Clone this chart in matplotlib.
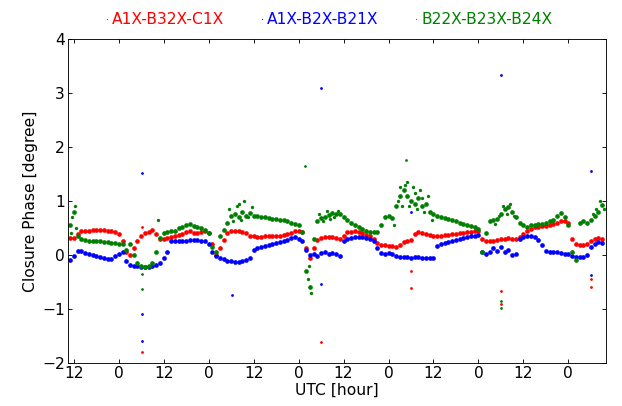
#Import Requirements
import numpy as np
import matplotlib
matplotlib.use("Agg")
import matplotlib.pyplot as plt

#Data: closure phase [degree], one reading per hour (hour 11 .. 153)
hours = np.arange(11, 154)

red = [0.31, 0.31, 0.38, 0.44, 0.45, 0.45, 0.46, 0.47, 0.47, 0.46,
       0.45, 0.44, 0.42, 0.38, 0.25, 0.05, 0.00, 0.12, 0.25, 0.35,
       0.40, 0.43, 0.46, 0.38, 0.30, 0.30, 0.32, 0.34, 0.36, 0.37,
       0.39, 0.42, 0.44, 0.40, 0.40, 0.42, 0.44, 0.40, 0.20, 0.00,
       0.12, 0.28, 0.40, 0.44, 0.44, 0.44, 0.43, 0.40, 0.36, 0.35,
       0.34, 0.34, 0.35, 0.35, 0.35, 0.36, 0.36, 0.37, 0.38, 0.40,
       0.44, 0.45, 0.42, 0.12, -0.06, 0.12, 0.28, 0.32, 0.33, 0.34,
       0.33, 0.31, 0.30, 0.36, 0.42, 0.43, 0.44, 0.42, 0.40, 0.37,
       0.35, 0.30, 0.22, 0.19, 0.18, 0.17, 0.16, 0.15, 0.18, 0.24,
       0.26, 0.27, 0.38, 0.42, 0.41, 0.39, 0.37, 0.35, 0.35, 0.36,
       0.37, 0.37, 0.38, 0.39, 0.40, 0.41, 0.42, 0.43, 0.44, 0.45,
       0.30, 0.26, 0.25, 0.25, 0.27, 0.29, 0.30, 0.31, 0.30, 0.30,
       0.33, 0.38, 0.44, 0.48, 0.51, 0.52, 0.53, 0.53, 0.55, 0.58,
       0.60, 0.62, 0.62, 0.60, 0.30, 0.20, 0.18, 0.18, 0.20, 0.26,
       0.30, 0.31, 0.30]

blue = [-0.09, -0.02, 0.08, 0.07, 0.04, 0.02, 0.00, -0.01, -0.03, -0.05,
        -0.08, -0.08, -0.02, 0.02, 0.06, -0.12, -0.19, -0.20, -0.21, -0.22,
        -0.23, -0.23, -0.20, -0.18, -0.14, -0.05, 0.05, 0.26, 0.26, 0.26,
        0.25, 0.26, 0.27, 0.28, 0.27, 0.26, 0.25, 0.20, 0.06, -0.02,
        -0.05, -0.08, -0.11, -0.12, -0.13, -0.13, -0.12, -0.10, -0.06, 0.10,
        0.12, 0.14, 0.16, 0.18, 0.20, 0.22, 0.24, 0.26, 0.28, 0.32,
        0.34, 0.30, 0.26, 0.10, 0.00, 0.02, -0.02, 0.03, 0.05, 0.01,
        0.04, 0.02, -0.02, 0.26, 0.30, 0.32, 0.33, 0.33, 0.33, 0.32,
        0.30, 0.26, 0.12, 0.04, 0.02, 0.03, 0.01, -0.02, -0.04, -0.04,
        -0.04, -0.05, -0.04, -0.04, -0.05, -0.05, -0.06, -0.06, 0.17, 0.20,
        0.22, 0.24, 0.26, 0.28, 0.30, 0.31, 0.33, 0.35, 0.36, 0.37,
        0.05, 0.02, 0.05, 0.12, 0.08, 0.15, 0.05, 0.10, 0.00, 0.02,
        0.30, 0.34, 0.35, 0.35, 0.33, 0.27, 0.18, 0.08, 0.06, 0.06,
        0.05, 0.03, 0.01, 0.02, -0.02, -0.03, -0.03, -0.03, 0.00, 0.15,
        0.20, 0.24, 0.22]

green = [0.55, 0.80, 0.36, 0.30, 0.27, 0.26, 0.25, 0.25, 0.25, 0.24,
         0.24, 0.23, 0.22, 0.21, 0.20, 0.10, 0.20, 0.00, -0.15, -0.20,
         -0.22, -0.21, -0.15, 0.05, 0.32, 0.40, 0.42, 0.44, 0.45, 0.50,
         0.52, 0.55, 0.57, 0.54, 0.52, 0.50, 0.46, 0.40, 0.15, 0.05,
         0.35, 0.46, 0.60, 0.72, 0.75, 0.70, 0.80, 0.72, 0.78, 0.73,
         0.72, 0.70, 0.70, 0.68, 0.67, 0.66, 0.65, 0.64, 0.63, 0.60,
         0.58, 0.56, 0.42, -0.30, -0.60, 0.30, 0.62, 0.68, 0.70, 0.74,
         0.78, 0.75, 0.75, 0.70, 0.65, 0.60, 0.56, 0.52, 0.48, 0.45,
         0.43, 0.42, 0.42, 0.55, 0.70, 0.72, 0.68, 0.90, 1.10, 1.20,
         1.10, 1.00, 0.95, 1.05, 0.90, 0.95, 0.80, 0.75, 0.72, 0.70,
         0.68, 0.66, 0.64, 0.62, 0.60, 0.58, 0.55, 0.53, 0.52, 0.48,
         0.05, 0.40, 0.62, 0.65, 0.67, 0.75, 0.85, 0.88, 0.80, 0.70,
         0.60, 0.55, 0.52, 0.55, 0.56, 0.57, 0.58, 0.60, 0.62, 0.65,
         0.72, 0.78, 0.70, 0.55, 0.05, -0.10, 0.60, 0.62, 0.60, 0.65,
         0.72, 0.80, 0.92]

#Extra scattered green readings in the noisy stretches
green_extra_t = [11.2, 11.5, 12.3, 12.6, 34.6, 53.5, 54.5, 55.5, 56.0, 56.5,
                 57.5, 58.5, 59.5, 74.5, 74.7, 75.3, 77.5, 78.5, 79.5, 80.5,
                 81.5, 82.5, 97.5, 98.5, 99.0, 99.5, 100.5, 101.0, 101.5, 102.5,
                 103.0, 103.5, 104.5, 105.0, 105.5, 106.5, 107.5, 124.5, 125.5, 126.5,
                 127.5, 128.5, 129.5, 150.5, 151.5, 152.5, 153.5]
green_extra_v = [0.40, 0.70, 0.90, 0.50, 0.64, 0.85, 0.62, 0.90, 0.95, 0.65,
                 1.00, 0.70, 0.88, -0.45, -0.20, -0.70, 0.75, 0.62, 0.82, 0.66,
                 0.70, 0.82, 0.55, 1.00, 1.25, 0.90, 1.30, 1.35, 0.90, 1.25,
                 1.15, 0.85, 1.20, 1.05, 0.80, 1.10, 0.65, 0.58, 0.72, 0.90,
                 0.75, 0.95, 0.72, 0.75, 0.85, 1.00, 0.85]

#Outliers
red_out_t = [30.1, 30.1, 78.1, 102.1, 102.1, 126.1, 126.1, 150.1, 150.1]
red_out_v = [0.52, -1.80, -1.62, -0.29, -0.62, -0.67, -0.91, -0.44, -0.59]
blue_out_t = [30.1, 30.1, 30.1, 54.1, 78.1, 78.1, 102.1, 126.1, 150.1, 150.1]
blue_out_v = [1.52, -1.09, -1.59, -0.74, 3.10, -0.54, 0.79, 3.33, 1.55, -0.37]
green_out_t = [30.1, 30.1, 73.6, 100.7, 126.1, 126.1]
green_out_v = [-0.35, -0.63, 1.65, 1.76, -0.85, -0.98]

labels = ["A1X-B32X-C1X", "A1X-B2X-B21X", "B22X-B23X-B24X"]
tick_hours = np.arange(12, 145, 12)

#Graph Data
plt.rcParams['font.family'] = 'DejaVu Sans'
plt.rcParams['font.size'] = 14
plt.rcParams['xtick.direction'] = 'in'
plt.rcParams['ytick.direction'] = 'in'
plt.rcParams['xtick.top'] = True
plt.rcParams['ytick.right'] = True
plt.rcParams['xtick.major.size'] = 4
plt.rcParams['ytick.major.size'] = 4
plt.rcParams['xtick.major.pad'] = 3
plt.rcParams['ytick.major.pad'] = 2.5

fig = plt.figure(figsize=(7.775, 5.075), dpi=80)
ax = fig.add_axes([0.109, 0.106, 0.865, 0.798])

ms = 4.2      # dense band readings
ms_out = 2.5  # single outliers
ax.plot(hours, red, 'o', color='red', ms=ms, mew=0, label=labels[0])
ax.plot(red_out_t, red_out_v, 'o', color='red', ms=ms_out, mew=0)
ax.plot(hours, blue, 'o', color='blue', ms=ms, mew=0, label=labels[1])
ax.plot(blue_out_t, blue_out_v, 'o', color='blue', ms=ms_out, mew=0)
ax.plot(hours, green, 'o', color='green', ms=ms, mew=0, label=labels[2])
ax.plot(green_extra_t, green_extra_v, 'o', color='green', ms=ms_out + 0.5, mew=0)
ax.plot(green_out_t, green_out_v, 'o', color='green', ms=ms_out, mew=0)

ax.set_xlim(10.4, 154)
ax.set_ylim(-2, 4)
ax.set_xticks(tick_hours)
ax.set_xticklabels([str(h % 24) for h in tick_hours])
ax.set_yticks(np.arange(-2, 5, 1))
ax.set_xlabel("UTC [hour]", labelpad=1)
ax.set_ylabel("Closure Phase [degree]", labelpad=4)

leg = fig.legend(loc='upper center', bbox_to_anchor=(0.528, 1.005), ncol=3,
                 frameon=False, markerscale=0.25, handlelength=0.3,
                 handletextpad=0.15, columnspacing=2.3)
for text, line in zip(leg.get_texts(), leg.get_lines()):
    text.set_color(line.get_color())

fig.savefig("out.png", dpi=80)
